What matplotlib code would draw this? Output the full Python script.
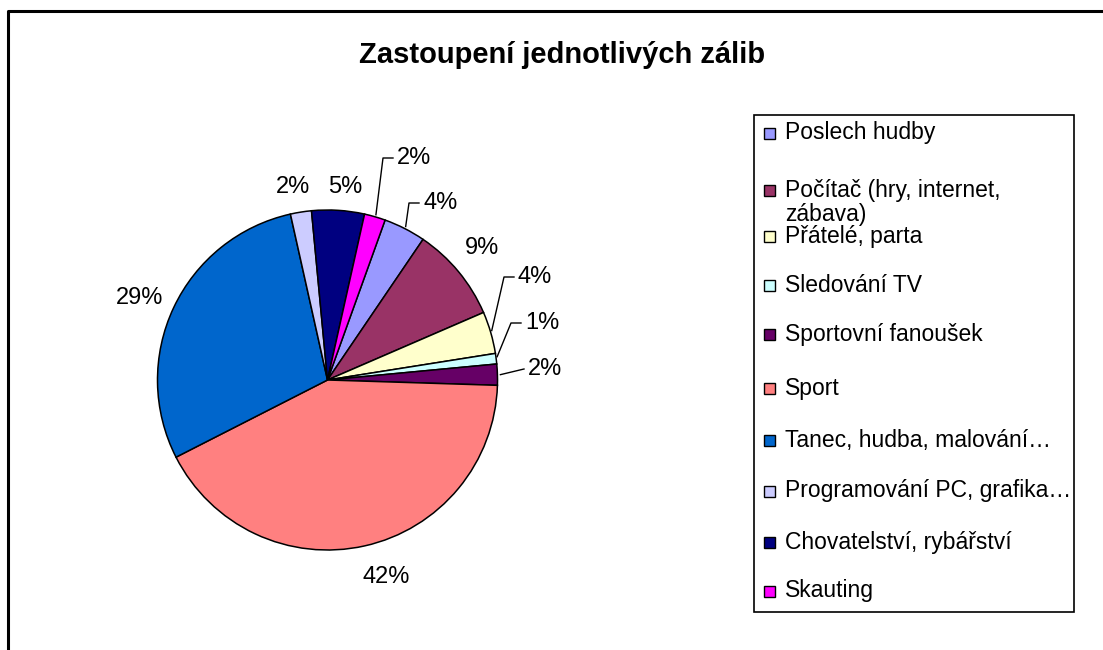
import numpy as np
import matplotlib
matplotlib.use('Agg')
from matplotlib import pyplot as plt
from matplotlib.patches import Rectangle

plt.rcParams['font.family'] = ['Liberation Sans', 'DejaVu Sans']

# Data
categories = ['Poslech hudby', 'Počítač (hry, internet,\nzábava)', 'Přátelé, parta',
              'Sledování TV', 'Sportovní fanoušek', 'Sport', 'Tanec, hudba, malování…',
              'Programování PC, grafika…', 'Chovatelství, rybářství', 'Skauting']
shares = [4, 9, 4, 1, 2, 42, 29, 2, 5, 2]
colors = ['#9999FF', '#993366', '#FFFFCC', '#CCFFFF', '#660066',
          '#FF8080', '#0066CC', '#CCCCFF', '#000080', '#FF00FF']

W, H = 1103, 650
fig = plt.figure(figsize=(W / 100, H / 100), dpi=100)
ax = fig.add_axes([0, 0, 1, 1])

# pie in pixel coordinates (y measured upwards)
cx, cy, R = 327.5, H - 380, 170
first_angle = 19.8  # degrees clockwise from 12 o'clock
wedges, _ = ax.pie(shares, colors=colors, startangle=90 - first_angle, counterclock=False,
                   center=(cx, cy), radius=R,
                   wedgeprops=dict(edgecolor='black', linewidth=1.1))

# label positions in pixels (x, y from top), leader flag
label_pos = [(423, 203, True), (482, 248, False), (518, 277, True), (525, 323, True),
             (528, 369, True), (386, 577, False), (140, 298, False), (293, 187, False),
             (345, 187, False), (397, 158, True)]

total = float(sum(shares))
cum = first_angle
for val, (lx, ly, leader) in zip(shares, label_pos):
    mid = np.radians(cum + 360 * val / total / 2)
    cum += 360 * val / total
    txt = '%d%%' % round(100 * val / total)
    ly = H - ly
    if leader:
        sx, sy = cx + R * np.sin(mid), cy + R * np.cos(mid)
        if abs(ly - sy) < 8:
            ax.plot([sx + 3, lx - 4], [sy, ly], color='black', lw=1.0)
        else:
            ax.plot([sx + 1, lx - 14, lx - 4], [sy + 2, ly, ly], color='black', lw=1.0)
        ax.text(lx, ly, txt, ha='left', va='center', fontsize=17)
    else:
        ax.text(lx, ly, txt, ha='center', va='center', fontsize=17)

# title
ax.text(562, H - 55, 'Zastoupení jednotlivých zálib', ha='center', va='center',
        fontsize=21, fontweight='bold')

# legend
ax.add_patch(Rectangle((754, H - 612), 1074 - 754, 612 - 115, facecolor='white',
                       edgecolor='black', lw=1.2))
row_y = [133, 190, 236, 285, 334, 388, 440, 491, 542, 591]
for name, col, ry in zip(categories, colors, row_y):
    ax.add_patch(Rectangle((764, H - ry - 5.5), 11, 11, facecolor=col,
                           edgecolor='black', lw=1.0))
    lines = name.split('\n')
    for k, line in enumerate(lines):
        ax.text(785, H - ry - 25 * k, line, ha='left', va='center', fontsize=16.5)

# outer chart frame
ax.plot([8, 8, W + 5], [-5, H - 11, H - 11], color='black', lw=2.2, clip_on=False)

ax.set_xlim(0, W)
ax.set_ylim(0, H)
ax.set_aspect('equal')
ax.axis('off')

fig.savefig('out.png', dpi=100)
